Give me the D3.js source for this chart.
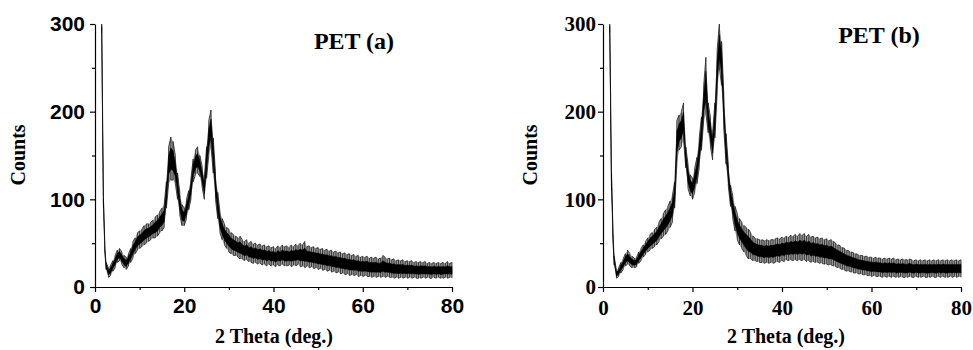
<!DOCTYPE html>
<html>
<head>
<meta charset="utf-8">
<script src="https://cdn.jsdelivr.net/npm/d3@7"></script>
<style>
  body { margin: 0; background: #fff; }
</style>
</head>
<body>
<svg id="chart" width="973" height="350"></svg>
<script>
var theta = [1.5, 1.7, 1.9, 2.2, 2.5,
  3, 3.5, 4, 4.5, 5, 5.5, 6, 6.5, 7, 7.5,
  8, 8.5, 9, 9.5, 10, 10.5, 11, 11.5, 12, 12.5,
  13, 13.5, 14, 14.5, 15, 15.5, 16, 16.5, 17, 17.5,
  18, 18.5, 19, 19.5, 20, 20.5, 21, 21.5, 22, 22.5,
  23, 23.5, 24, 24.5, 25, 25.5, 26, 26.5, 27, 27.5,
  28, 28.5, 29, 29.5, 30, 30.5, 31, 31.5, 32, 32.5,
  33, 33.5, 34, 34.5, 35, 35.5, 36, 36.5, 37, 37.5,
  38, 38.5, 39, 39.5, 40, 40.5, 41, 41.5, 42, 42.5,
  43, 43.5, 44, 44.5, 45, 45.5, 46, 46.5, 47, 47.5,
  48, 48.5, 49, 49.5, 50, 50.5, 51, 51.5, 52, 52.5,
  53, 53.5, 54, 54.5, 55, 55.5, 56, 56.5, 57, 57.5,
  58, 58.5, 59, 59.5, 60, 60.5, 61, 61.5, 62, 62.5,
  63, 63.5, 64, 64.5, 65, 65.5, 66, 66.5, 67, 67.5,
  68, 68.5, 69, 69.5, 70, 70.5, 71, 71.5, 72, 72.5,
  73, 73.5, 74, 74.5, 75, 75.5, 76, 76.5, 77, 77.5,
  78, 78.5, 79, 79.5, 80];

// PET (a): lower / upper edge of the noisy trace (counts)
var petALow = [290, 180, 90, 40, 20,
  11, 13, 18, 22, 28, 30, 26, 22, 20, 24,
  28, 33, 38, 42, 44, 46, 48, 50, 52, 54,
  56, 56, 58, 62, 64, 68, 90, 118, 122, 122,
  118, 100, 82, 70, 70, 78, 88, 100, 120, 128,
  130, 126, 114, 100, 124, 150, 160, 130, 100, 78,
  62, 54, 48, 44, 40, 38, 36, 36, 34, 32,
  32, 30, 31, 29, 28, 27, 28, 26, 27, 25,
  26, 24, 26, 24, 25, 23, 25, 24, 26, 24,
  24, 25, 23, 25, 24, 26, 23, 24, 22, 24,
  22, 23, 21, 22, 20, 21, 19, 20, 18, 19,
  17, 18, 16, 17, 15, 16, 14, 15, 13, 14,
  13, 14, 12, 13, 12, 13, 12, 12, 11, 12,
  11, 12, 11, 12, 11, 12, 11, 11, 10, 11,
  10, 11, 10, 11, 10, 11, 10, 11, 10, 10,
  10, 11, 10, 11, 10, 10, 11, 10, 11, 10,
  10, 11, 10, 11, 10];
var petAHigh = [300, 200, 100, 48, 28,
  22, 25, 30, 36, 42, 44, 40, 36, 34, 38,
  44, 52, 56, 62, 64, 66, 70, 72, 72, 74,
  76, 80, 82, 86, 90, 94, 120, 160, 171, 166,
  150, 130, 108, 94, 90, 100, 110, 124, 146, 156,
  160, 150, 138, 124, 160, 190, 202, 170, 130, 108,
  86, 78, 72, 68, 66, 62, 60, 58, 56, 58,
  54, 52, 54, 50, 52, 49, 50, 48, 49, 47,
  48, 46, 47, 45, 46, 44, 47, 45, 48, 46,
  47, 45, 48, 46, 49, 47, 50, 48, 52, 46,
  47, 45, 46, 44, 45, 43, 44, 42, 43, 41,
  42, 40, 41, 39, 40, 38, 39, 37, 38, 36,
  37, 35, 36, 34, 35, 34, 35, 33, 34, 33,
  34, 32, 33, 36, 34, 32, 33, 31, 32, 30,
  31, 30, 31, 29, 30, 29, 30, 28, 29, 28,
  29, 28, 29, 27, 28, 27, 28, 27, 28, 27,
  28, 27, 29, 27, 28];

// PET (b)
var petBLow = [290, 200, 110, 55, 25,
  10, 12, 16, 20, 24, 26, 24, 22, 22, 23,
  27, 30, 34, 37, 40, 42, 44, 46, 48, 52,
  55, 58, 60, 64, 68, 74, 90, 140, 156, 160,
  168, 136, 112, 104, 100, 108, 118, 136, 156, 190,
  198, 176, 160, 145, 170, 220, 250, 230, 180, 140,
  115, 92, 78, 64, 54, 48, 44, 40, 36, 32,
  32, 30, 30, 29, 28, 28, 27, 28, 27, 28,
  27, 28, 29, 28, 30, 29, 31, 30, 31, 30,
  31, 30, 31, 30, 31, 29, 30, 28, 29, 28,
  28, 27, 27, 26, 26, 25, 25, 24, 23, 22,
  21, 20, 19, 18, 18, 17, 16, 16, 15, 15,
  14, 14, 13, 13, 12, 13, 12, 12, 12, 11,
  12, 11, 12, 11, 12, 11, 11, 12, 11, 11,
  11, 12, 11, 11, 12, 11, 11, 12, 11, 11,
  11, 12, 11, 11, 12, 11, 12, 11, 11, 12,
  11, 12, 11, 12, 11];
var petBHigh = [300, 220, 130, 70, 35,
  19, 22, 28, 32, 38, 42, 38, 35, 33, 34,
  40, 44, 48, 52, 56, 60, 62, 66, 68, 74,
  78, 84, 88, 92, 98, 104, 120, 190, 196, 200,
  210, 160, 140, 128, 124, 136, 148, 170, 194, 230,
  262, 210, 194, 176, 210, 270, 300, 280, 220, 175,
  140, 116, 104, 92, 84, 78, 74, 70, 68, 66,
  62, 58, 56, 55, 54, 54, 53, 54, 53, 54,
  54, 55, 56, 55, 57, 56, 58, 57, 59, 58,
  60, 58, 61, 59, 61, 58, 60, 57, 58, 56,
  57, 55, 56, 54, 55, 53, 54, 52, 50, 48,
  47, 45, 44, 42, 41, 40, 39, 38, 37, 36,
  36, 35, 35, 34, 34, 33, 34, 33, 33, 32,
  33, 32, 33, 32, 33, 31, 32, 31, 32, 31,
  31, 32, 31, 30, 31, 30, 31, 30, 31, 30,
  31, 30, 31, 30, 31, 30, 31, 30, 31, 30,
  31, 30, 31, 30, 31];

var xTicks = [0, 20, 40, 60, 80];
var xMinor = [10, 30, 50, 70];
var yTicks = [0, 100, 200, 300];
var yMinor = [50, 150, 250];

var svg = d3.select("#chart");
var serif = "'Liberation Serif', 'Times New Roman', serif";
var sans = "'Liberation Sans', Arial, sans-serif";

function drawPanel(p) {
  var x = d3.scaleLinear().domain([0, 80]).range([p.left, p.right]);
  var y = d3.scaleLinear().domain([0, 300]).range([287, 24]);
  var g = svg.append("g");

  var rows = theta.map(function (t, i) {
    return { t: t, lo: p.low[i], hi: p.high[i] };
  });

  // light fill between the noise extremes
  g.append("path").datum(rows)
    .attr("d", d3.area().x(d => x(d.t)).y0(d => y(d.lo)).y1(d => y(d.hi)))
    .attr("fill", "#9a9a9a");

  // noise: a zigzag running low -> high at every reading
  var zig = [];
  rows.forEach(function (d, i) {
    if (i % 2) { zig.push([d.t, d.hi]); zig.push([d.t, d.lo]); }
    else { zig.push([d.t, d.lo]); zig.push([d.t, d.hi]); }
  });
  g.append("path").datum(zig)
    .attr("d", d3.line().x(d => x(d[0])).y(d => y(d[1])))
    .attr("fill", "none")
    .attr("stroke", "#222")
    .attr("stroke-width", 0.8);

  // dark core of the trace
  var core = d3.area()
    .x(d => x(d.t))
    .y0(d => y(d.lo + (d.hi - d.lo) * 0.25))
    .y1(d => y(d.hi - (d.hi - d.lo) * 0.25));
  g.append("path").datum(rows)
    .attr("d", core)
    .attr("fill", "#000")
    .attr("stroke", "#000")
    .attr("stroke-width", 0.5);

  // axes
  var xAxis = g.append("g").attr("transform", "translate(0,287)")
    .call(d3.axisBottom(x).tickValues(xTicks).tickSize(5).tickSizeOuter(0).tickPadding(p.xPad));
  g.append("g").attr("transform", "translate(0,287)")
    .call(d3.axisBottom(x).tickValues(xMinor).tickSize(3).tickSizeOuter(0).tickFormat(""))
    .select(".domain").remove();
  var yAxis = g.append("g").attr("transform", "translate(" + p.left + ",0)")
    .call(d3.axisLeft(y).tickValues(yTicks).tickSize(5).tickSizeOuter(0).tickPadding(p.yPad));
  g.append("g").attr("transform", "translate(" + p.left + ",0)")
    .call(d3.axisLeft(y).tickValues(yMinor).tickSize(3).tickSizeOuter(0).tickFormat(""))
    .select(".domain").remove();

  g.selectAll(".domain, .tick line").attr("stroke", "#000").attr("stroke-width", 1.2);
  [xAxis, yAxis].forEach(function (a) {
    a.selectAll("text")
      .attr("font-family", p.tickFont)
      .attr("font-size", p.tickSize)
      .attr("font-weight", "bold")
      .attr("fill", "#000");
  });

  // labels
  g.append("text")
    .attr("transform", "translate(" + p.yLabelX + ",155) rotate(-90)")
    .attr("text-anchor", "middle")
    .attr("font-family", serif).attr("font-weight", "bold").attr("font-size", 20)
    .text("Counts");
  g.append("text")
    .attr("x", p.xLabelX).attr("y", 343)
    .attr("text-anchor", "middle")
    .attr("font-family", serif).attr("font-weight", "bold").attr("font-size", 20)
    .text("2 Theta (deg.)");
  g.append("text")
    .attr("x", p.titleX).attr("y", p.titleY)
    .attr("text-anchor", "middle")
    .attr("font-family", serif).attr("font-weight", "bold").attr("font-size", 24)
    .text(p.title);
}

drawPanel({
  left: 95, right: 452, low: petALow, high: petAHigh,
  tickFont: sans, tickSize: 21, xPad: 6, yPad: 5,
  yLabelX: 25, xLabelX: 274, titleX: 354, titleY: 49, title: "PET (a)"
});
drawPanel({
  left: 603, right: 961, low: petBLow, high: petBHigh,
  tickFont: serif, tickSize: 21, xPad: 8, yPad: 2,
  yLabelX: 537, xLabelX: 786, titleX: 879, titleY: 43, title: "PET (b)"
});
</script>
</body>
</html>
